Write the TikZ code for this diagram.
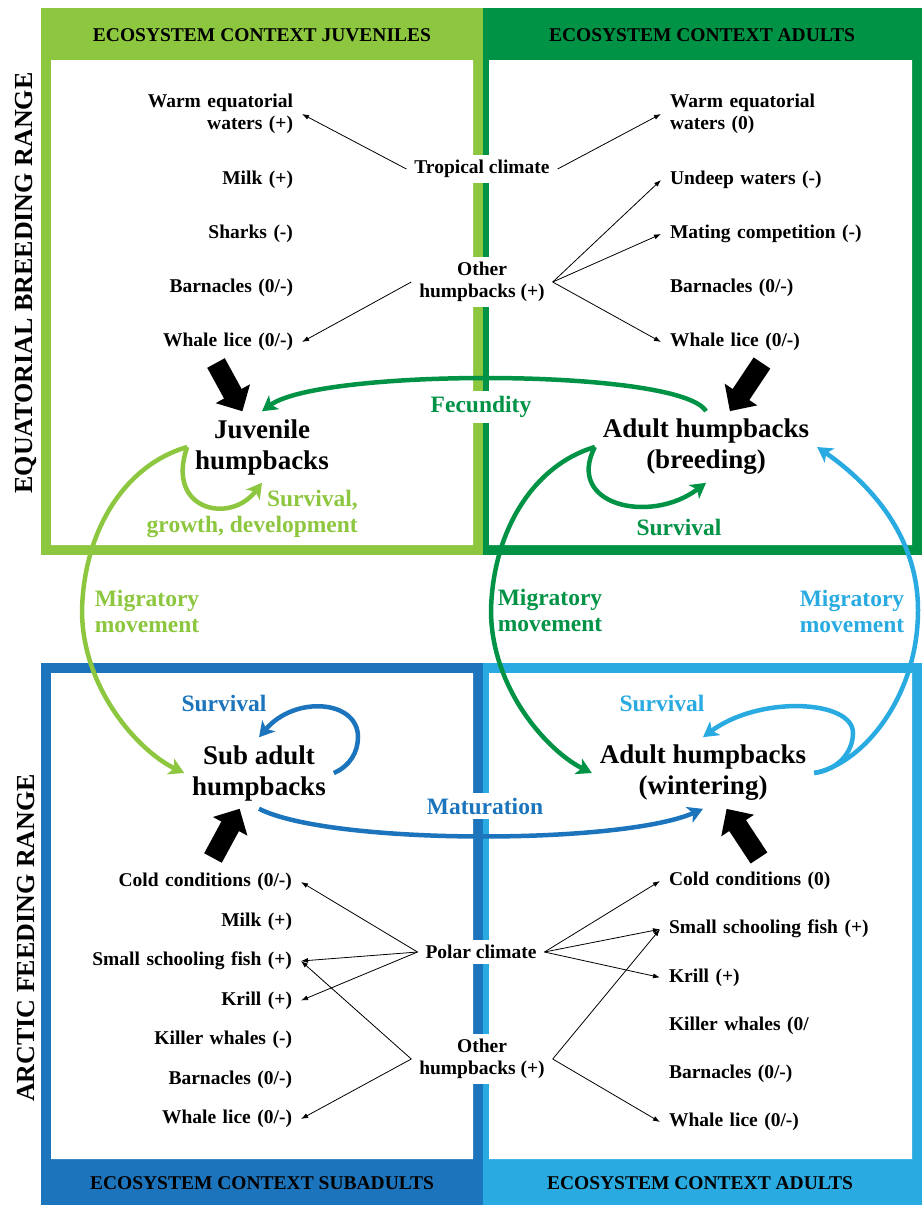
\documentclass[tikz,border=0pt]{standalone}
\usepackage{fontspec}
\setmainfont{Liberation Serif}
\usetikzlibrary{positioning, arrows.meta}

\definecolor{lgreen}{HTML}{8DC63F}
\definecolor{dgreen}{HTML}{009245}
\definecolor{dblue}{HTML}{1C75BC}
\definecolor{lblue}{HTML}{29ABE2}

\begin{document}
\begin{tikzpicture}[x=1pt, y=-1pt,
	item/.style={text width=200pt, inner sep=0pt, outer xsep=9pt, font=\bfseries\fontsize{19.5}{22}\selectfont},
	lcol/.style={item, align=right},
	rcol/.style={item, align=left},
	hub/.style={fill=white, inner sep=5pt, outer sep=3pt, align=center, font=\bfseries\fontsize{19.5}{22}\selectfont},
	stage/.style={inner sep=3pt, outer sep=5pt, align=center, font=\bfseries\fontsize{27}{31}\selectfont},
	tag/.style={align=center, inner sep=5pt, font=\bfseries\fontsize{23.5}{26}\selectfont},
	hdr/.style={font=\bfseries\fontsize{19.5}{22}\selectfont},
	rng/.style={rotate=90, font=\bfseries\fontsize{26}{30}\selectfont},
	link/.style={line width=0.8pt, -{Latex[length=7pt, width=5pt]}},
	flow/.style={line width=4.5pt, -{Stealth[length=15pt, width=17pt, inset=4pt]}},
	feed/.style={line width=20pt, -{Triangle[length=20pt, width=38pt]}},
	node distance=54pt]
	\useasboundingbox (0,0) rectangle (922,1205);

	\fill[lgreen] (41,8) rectangle (483,555);
	\fill[dgreen] (483,8) rectangle (922,555);
	\fill[dblue] (41,663) rectangle (483,1205);
	\fill[lblue] (483,663) rectangle (922,1205);
	\fill[white] (51,60) rectangle (473,545) (489,60) rectangle (912,545)
		(51,673) rectangle (473,1159) (489,673) rectangle (912,1159);

	\node[hdr] (hj) at (262,35) {ECOSYSTEM CONTEXT JUVENILES};
	\node[hdr] (ha) at (702,35) {ECOSYSTEM CONTEXT ADULTS};
	\node[hdr] (hs) at (262,1183) {ECOSYSTEM CONTEXT SUBADULTS};
	\node[hdr] (hw) at (700,1183) {ECOSYSTEM CONTEXT ADULTS};
	\node[rng] (eq) at (26,283) {EQUATORIAL BREEDING RANGE};
	\node[rng] (ar) at (26,938) {ARCTIC FEEDING RANGE};

	\node[stage] (juv) at (262,447) {Juvenile\\humpbacks};
	\node[stage] (abr) at (706,447) {Adult humpbacks\\(breeding)};
	\node[stage] (sub) at (259,773) {Sub adult\\humpbacks};
	\node[stage] (win) at (703,773) {Adult humpbacks\\(wintering)};

	\node[lcol] (tl1) at (193,114) {Warm equatorial\\waters (+)};
	\node[lcol, node distance=66pt, below of=tl1] (tl2) {Milk (+)};
	\node[lcol, below of=tl2] (tl3) {Sharks (-)};
	\node[lcol, below of=tl3] (tl4) {Barnacles (0/-)};
	\node[lcol, below of=tl4] (tl5) {Whale lice (0/-)};

	\node[rcol] (tr1) at (770,114) {Warm equatorial\\waters (0)};
	\node[rcol, node distance=66pt, below of=tr1] (tr2) {Undeep waters (-)};
	\node[rcol, below of=tr2] (tr3) {Mating competition (-)};
	\node[rcol, below of=tr3] (tr4) {Barnacles (0/-)};
	\node[rcol, below of=tr4] (tr5) {Whale lice (0/-)};

	\node[hub] (tc) at (482,169) {Tropical climate};
	\node[hub] (ot) at (482,282) {Other\\humpbacks (+)};

	\node[lcol] (bl1) at (192,882) {Cold conditions (0/-)};
	\node[lcol, node distance=39.5pt, below of=bl1] (bl2) {Milk (+)};
	\node[lcol, node distance=39.5pt, below of=bl2] (bl3) {Small schooling fish (+)};
	\node[lcol, node distance=39.5pt, below of=bl3] (bl4) {Krill (+)};
	\node[lcol, node distance=39.5pt, below of=bl4] (bl5) {Killer whales (-)};
	\node[lcol, node distance=39.5pt, below of=bl5] (bl6) {Barnacles (0/-)};
	\node[lcol, node distance=39.5pt, below of=bl6] (bl7) {Whale lice (0/-)};

	\node[rcol] (br1) at (769,881) {Cold conditions (0)};
	\node[rcol, node distance=48.2pt, below of=br1] (br2) {Small schooling fish (+)};
	\node[rcol, node distance=48.2pt, below of=br2] (br3) {Krill (+)};
	\node[rcol, node distance=48.2pt, below of=br3] (br4) {Killer whales (0/};
	\node[rcol, node distance=48.2pt, below of=br4] (br5) {Barnacles (0/-)};
	\node[rcol, node distance=48.2pt, below of=br5] (br6) {Whale lice (0/-)};

	\node[hub] (pc) at (481,952) {Polar climate};
	\node[hub] (ob) at (482,1059) {Other\\humpbacks (+)};

	\node[tag, dgreen, fill=white] (fec) at (481,407) {Fecundity};
	\node[tag, lgreen, align=right, anchor=east] (sj) at (363,514) {Survival,\\growth, development};
	\node[tag, dgreen] (sa) at (679,527) {Survival};
	\node[tag, lgreen] (mj) at (147,611) {Migratory\\movement};
	\node[tag, dgreen] (ma) at (550,610) {Migratory\\movement};
	\node[tag, lblue] (mw) at (852,611) {Migratory\\movement};
	\node[tag, dblue] (ss) at (224,703) {Survival};
	\node[tag, lblue] (sw) at (662,703) {Survival};
	\node[tag, dblue, fill=white] (mat) at (485,806) {Maturation};

	\path [link]
		(tc.west) edge (tl1.east)
		(tc.east) edge (tr1.west)
		(ot.west) edge (tl5.east)
		(ot.east) edge (tr2.west)
		(ot.east) edge (tr3.west)
		(ot.east) edge (tr5.west)
		(pc.west) edge (bl1.east)
		(pc.west) edge (bl3.east)
		(pc.west) edge (bl4.east)
		(ob.west) edge (bl3.east)
		(ob.west) edge (bl7.east)
		(pc.east) edge (br1.west)
		(pc.east) edge (br2.west)
		(pc.east) edge (br3.west)
		(ob.east) edge (br2.west)
		(ob.east) edge (br6.west)
		;

	\coordinate (jf) at (216,363);
	\coordinate (af) at (762,363);
	\coordinate (sf) at (213,858);
	\coordinate (wf) at (759,858);
	\path [feed]
		(jf) edge (juv)
		(af) edge (abr)
		(sf) edge (sub)
		(wf) edge (win)
		;

	\draw [flow, dgreen] (abr.north) .. controls (680,368) and (320,368) .. (juv.north);
	\draw [flow, lgreen] (juv.west) .. controls (165,510) and (230,525) .. (juv.south);
	\draw [flow, dgreen] (abr.west) .. controls (565,505) and (650,525) .. (abr.south);
	\draw [flow, lgreen] (juv.west) .. controls (125,465) and (84,530) .. (82,610)
		.. controls (82,690) and (140,752) .. (sub.west);
	\draw [flow, dgreen] (abr.west) .. controls (534,465) and (493,530) .. (491,610)
		.. controls (491,690) and (549,752) .. (win.west);
	\draw [flow, lblue] (win.east) .. controls (860,765) and (918,700) .. (918,610)
		.. controls (918,530) and (862,478) .. (abr.east);
	\draw [flow, dblue] (sub.east) .. controls (350,766) and (358,752) .. (358,737)
		.. controls (358,700) and (295,695) .. (sub.north);
	\draw [flow, lblue] (win.east) .. controls (838,770) and (853,752) .. (853,733)
		.. controls (853,700) and (760,695) .. (win.north);
	\draw [flow, dblue] (sub.south) .. controls (330,845) and (620,845) .. (win.south);
\end{tikzpicture}
\end{document}
